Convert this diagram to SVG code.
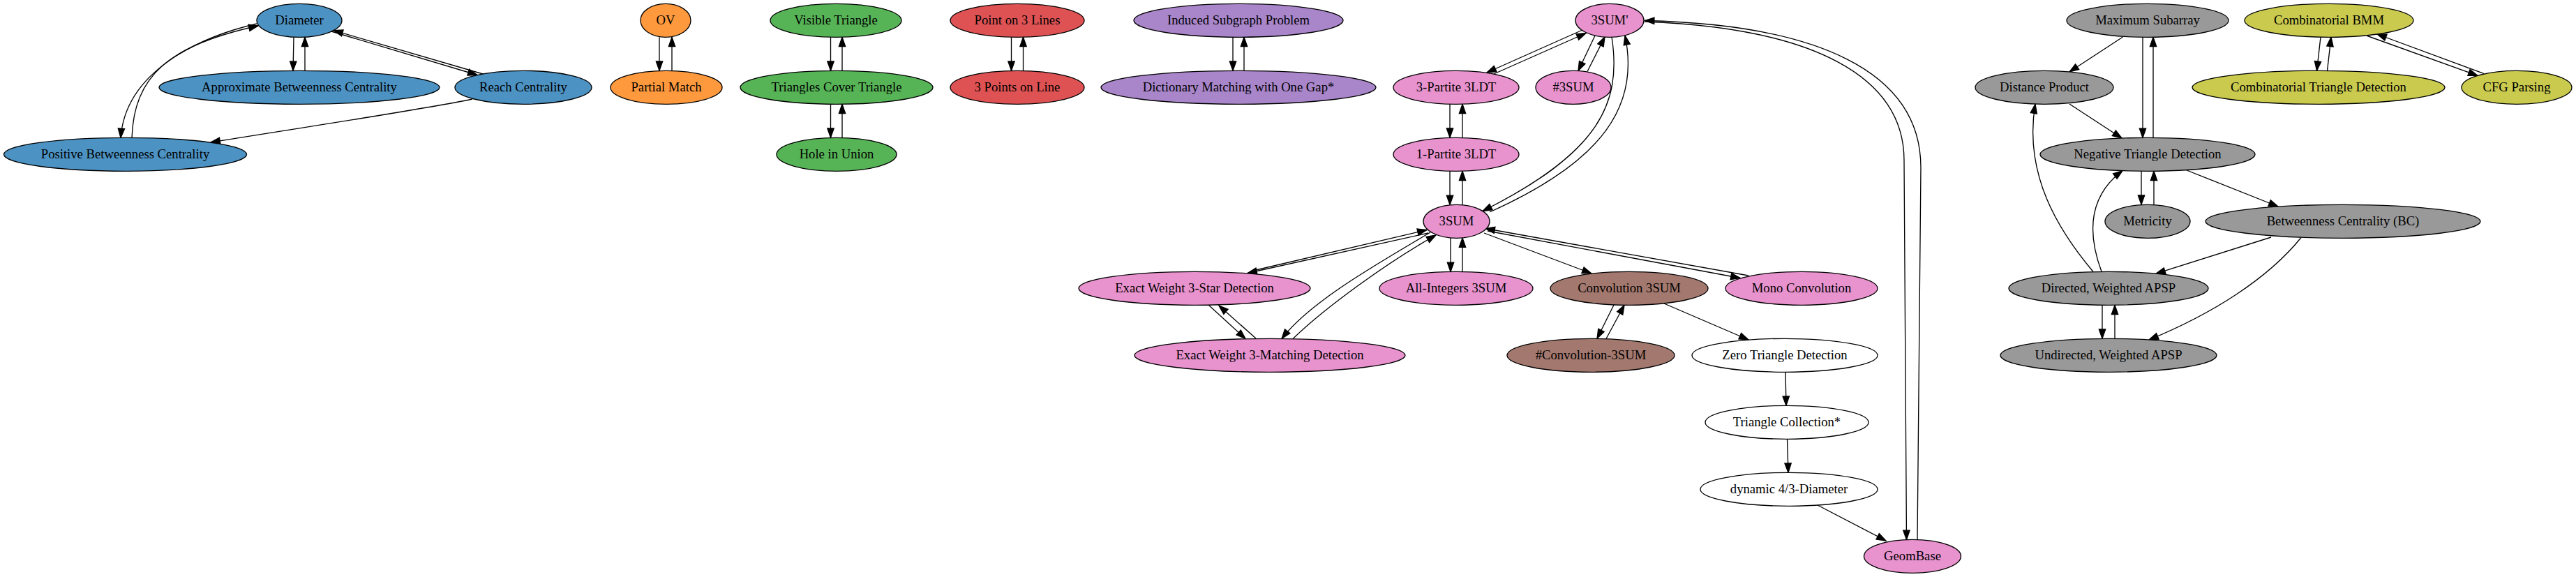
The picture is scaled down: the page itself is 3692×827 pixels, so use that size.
<svg xmlns="http://www.w3.org/2000/svg" width="3692" height="827" viewBox="0 0 3692 827">
<style>
.n ellipse{stroke:#000;stroke-width:1.33}
.n text{font-family:"Liberation Serif","Times New Roman",serif;font-size:18.67px;text-anchor:middle;fill:#000}
.blue ellipse{fill:#4C92C3}
.orange ellipse{fill:#FF993E}
.green ellipse{fill:#56B356}
.red ellipse{fill:#DE5253}
.purple ellipse{fill:#A985CA}
.pink ellipse{fill:#E892CE}
.brown ellipse{fill:#A3786F}
.gray ellipse{fill:#999999}
.olive ellipse{fill:#C9CA4E}
.white ellipse{fill:#FFFFFF}
#edges path{fill:none;stroke:#000;stroke-width:1.33;marker-end:url(#ah)}
</style>
<defs>
<marker id="ah" markerUnits="userSpaceOnUse" markerWidth="16" markerHeight="12" refX="13.33" refY="4.67" orient="auto" overflow="visible">
<path d="M0,0 L13.33,4.67 L0,9.33 z" fill="#000" stroke="#000" stroke-width="1.33"/>
</marker>
</defs>
<rect width="3692" height="827" fill="#fff"/>
<g id="edges">
<path d="M421,53.3 L420,101.3"/>
<path d="M437,101.3 L437,53.3"/>
<path d="M475,45 L684,107.5"/>
<path d="M692,106 L478,43.6"/>
<path d="M368,34 C290,52 180,100 173,197.5"/>
<path d="M189,197.5 C192,110 240,65 370,37"/>
<path d="M677,142 C600,158 450,180 302,204"/>
<path d="M945,53.3 L945,101.3"/>
<path d="M963,101.3 L963,53.3"/>
<path d="M1190.5,53.3 L1190.5,101.3"/>
<path d="M1207,101.3 L1207,53.3"/>
<path d="M1190.5,149.3 L1190.5,197.3"/>
<path d="M1207,197.3 L1207,149.3"/>
<path d="M1449.5,53.3 L1449.5,101.3"/>
<path d="M1466.5,101.3 L1466.5,53.3"/>
<path d="M1767,53.3 L1767,101.3"/>
<path d="M1783,101.3 L1783,53.3"/>
<path d="M2268,43 L2131,104"/>
<path d="M2141,106 L2273,47.5"/>
<path d="M2286,51 L2262,101.5"/>
<path d="M2275,102.5 L2300,53"/>
<path d="M2310,53 C2325,150 2290,220 2125,302.5"/>
<path d="M2135,304 C2300,230 2350,150 2329,51"/>
<path d="M2078,149.3 L2078,197.3"/>
<path d="M2096,197.3 L2096,149.3"/>
<path d="M2078,245.3 L2078,293.5"/>
<path d="M2096,293.5 L2096,245.3"/>
<path d="M2079,341 L2079,389.5"/>
<path d="M2096,389.5 L2096,341"/>
<path d="M2047,334 L1788,391.5"/>
<path d="M1800,387 L2045,329.5"/>
<path d="M2050,333 C1980,375 1880,430 1837,485.3"/>
<path d="M1853,485.5 C1900,440 1990,375 2058,337"/>
<path d="M1732,437 L1785,485.5"/>
<path d="M1800,485 L1747,438"/>
<path d="M2127,334 L2281,392"/>
<path d="M2132,331 L2494,398.5"/>
<path d="M2506,395 L2129,327.5"/>
<path d="M2313,437 L2289,485.3"/>
<path d="M2302,485.5 L2328,437.2"/>
<path d="M2385,435 L2506,487"/>
<path d="M2559,533.3 L2560,581.3"/>
<path d="M2561.5,629.3 L2563,677.3"/>
<path d="M2605,724 L2703,775"/>
<path d="M2357,31 C2600,40 2729,110 2729,230 L2732.5,773.5"/>
<path d="M2748,773.5 L2753,240 C2753,100 2600,35 2357.5,29.5"/>
<path d="M3042.5,53 L2966,103"/>
<path d="M3071,53.3 L3071,197.4"/>
<path d="M3086,197.4 L3086,53.3"/>
<path d="M2966,149 L3041,198"/>
<path d="M3000,389.5 C2950,330 2900,250 2917,149.2"/>
<path d="M3012,389.3 C2990,330 2995,280 3042,244.6"/>
<path d="M3134,244 L3265,296"/>
<path d="M3069,245.3 L3069,293.3"/>
<path d="M3087,293.3 L3087,245.3"/>
<path d="M3255,340 L3090,392.2"/>
<path d="M3298,340.5 C3250,400 3170,450 3080,487"/>
<path d="M3013,437.3 L3013,485.3"/>
<path d="M3031,485.3 L3031,437.3"/>
<path d="M3326,53.2 L3320.5,101.3"/>
<path d="M3335.5,101.3 L3341,53.2"/>
<path d="M3393,51.5 L3551,108.4"/>
<path d="M3560,105.5 L3407,49"/>
</g>
<g id="diameter" class="n blue"><ellipse cx="429" cy="29.3" rx="61" ry="24"/><text x="429" y="35.3">Diameter</text></g>
<g id="abc" class="n blue"><ellipse cx="429" cy="125.3" rx="201" ry="24"/><text x="429" y="131.3">Approximate Betweenness Centrality</text></g>
<g id="reach" class="n blue"><ellipse cx="750" cy="125.3" rx="98" ry="24"/><text x="750" y="131.3">Reach Centrality</text></g>
<g id="pbc" class="n blue"><ellipse cx="179.5" cy="221.3" rx="174" ry="24"/><text x="179.5" y="227.3">Positive Betweenness Centrality</text></g>
<g id="ov" class="n orange"><ellipse cx="954" cy="29.3" rx="36" ry="24"/><text x="954" y="35.3">OV</text></g>
<g id="pm" class="n orange"><ellipse cx="955" cy="125.3" rx="80" ry="24"/><text x="955" y="131.3">Partial Match</text></g>
<g id="vt" class="n green"><ellipse cx="1198" cy="29.3" rx="94" ry="24"/><text x="1198" y="35.3">Visible Triangle</text></g>
<g id="tct" class="n green"><ellipse cx="1199" cy="125.3" rx="138" ry="24"/><text x="1199" y="131.3">Triangles Cover Triangle</text></g>
<g id="hiu" class="n green"><ellipse cx="1199" cy="221.3" rx="86" ry="24"/><text x="1199" y="227.3">Hole in Union</text></g>
<g id="p3l" class="n red"><ellipse cx="1458" cy="29.3" rx="96" ry="24"/><text x="1458" y="35.3">Point on 3 Lines</text></g>
<g id="p3pl" class="n red"><ellipse cx="1458" cy="125.3" rx="96" ry="24"/><text x="1458" y="131.3">3 Points on Line</text></g>
<g id="isp" class="n purple"><ellipse cx="1775" cy="29.3" rx="150" ry="24"/><text x="1775" y="35.3">Induced Subgraph Problem</text></g>
<g id="dm" class="n purple"><ellipse cx="1775" cy="125.3" rx="197" ry="24"/><text x="1775" y="131.3">Dictionary Matching with One Gap*</text></g>
<g id="sum3p" class="n pink"><ellipse cx="2307" cy="29.3" rx="49" ry="24"/><text x="2307" y="35.3">3SUM'</text></g>
<g id="p3ldt" class="n pink"><ellipse cx="2087" cy="125.3" rx="90" ry="24"/><text x="2087" y="131.3">3-Partite 3LDT</text></g>
<g id="h3sum" class="n pink"><ellipse cx="2255" cy="125.3" rx="54" ry="24"/><text x="2255" y="131.3">#3SUM</text></g>
<g id="p1ldt" class="n pink"><ellipse cx="2087" cy="221.3" rx="90" ry="24"/><text x="2087" y="227.3">1-Partite 3LDT</text></g>
<g id="sum3" class="n pink"><ellipse cx="2087.5" cy="317.3" rx="47.5" ry="24"/><text x="2087.5" y="323.3">3SUM</text></g>
<g id="ew3s" class="n pink"><ellipse cx="1712" cy="413.3" rx="166" ry="24"/><text x="1712" y="419.3">Exact Weight 3-Star Detection</text></g>
<g id="ai3s" class="n pink"><ellipse cx="2087" cy="413.3" rx="110" ry="24"/><text x="2087" y="419.3">All-Integers 3SUM</text></g>
<g id="conv" class="n brown"><ellipse cx="2335" cy="413.3" rx="113" ry="24"/><text x="2335" y="419.3">Convolution 3SUM</text></g>
<g id="mono" class="n pink"><ellipse cx="2582" cy="413.3" rx="109" ry="24"/><text x="2582" y="419.3">Mono Convolution</text></g>
<g id="ew3m" class="n pink"><ellipse cx="1820" cy="509.3" rx="194" ry="24"/><text x="1820" y="515.3">Exact Weight 3-Matching Detection</text></g>
<g id="hconv" class="n brown"><ellipse cx="2280" cy="509.3" rx="120" ry="24"/><text x="2280" y="515.3">#Convolution-3SUM</text></g>
<g id="ztd" class="n white"><ellipse cx="2558" cy="509.3" rx="133" ry="24"/><text x="2558" y="515.3">Zero Triangle Detection</text></g>
<g id="tc" class="n white"><ellipse cx="2561" cy="605.3" rx="117" ry="24"/><text x="2561" y="611.3">Triangle Collection*</text></g>
<g id="dyn" class="n white"><ellipse cx="2564" cy="701.3" rx="127" ry="24"/><text x="2564" y="707.3">dynamic 4/3-Diameter</text></g>
<g id="geom" class="n pink"><ellipse cx="2741" cy="797.3" rx="69.5" ry="24"/><text x="2741" y="803.3">GeomBase</text></g>
<g id="ms" class="n gray"><ellipse cx="3078" cy="29.3" rx="116" ry="24"/><text x="3078" y="35.3">Maximum Subarray</text></g>
<g id="dp" class="n gray"><ellipse cx="2930" cy="125.3" rx="99" ry="24"/><text x="2930" y="131.3">Distance Product</text></g>
<g id="ntd" class="n gray"><ellipse cx="3078" cy="221.3" rx="154" ry="24"/><text x="3078" y="227.3">Negative Triangle Detection</text></g>
<g id="met" class="n gray"><ellipse cx="3078" cy="317.3" rx="61" ry="24"/><text x="3078" y="323.3">Metricity</text></g>
<g id="bc" class="n gray"><ellipse cx="3358" cy="317.3" rx="197" ry="24"/><text x="3358" y="323.3">Betweenness Centrality (BC)</text></g>
<g id="dapsp" class="n gray"><ellipse cx="3022" cy="413.3" rx="143" ry="24"/><text x="3022" y="419.3">Directed, Weighted APSP</text></g>
<g id="uapsp" class="n gray"><ellipse cx="3022" cy="509.3" rx="155" ry="24"/><text x="3022" y="515.3">Undirected, Weighted APSP</text></g>
<g id="cbmm" class="n olive"><ellipse cx="3338" cy="29.3" rx="121" ry="24"/><text x="3338" y="35.3">Combinatorial BMM</text></g>
<g id="ctd" class="n olive"><ellipse cx="3323" cy="125.3" rx="181" ry="24"/><text x="3323" y="131.3">Combinatorial Triangle Detection</text></g>
<g id="cfg" class="n olive"><ellipse cx="3607" cy="125.3" rx="79" ry="24"/><text x="3607" y="131.3">CFG Parsing</text></g>
</svg>
